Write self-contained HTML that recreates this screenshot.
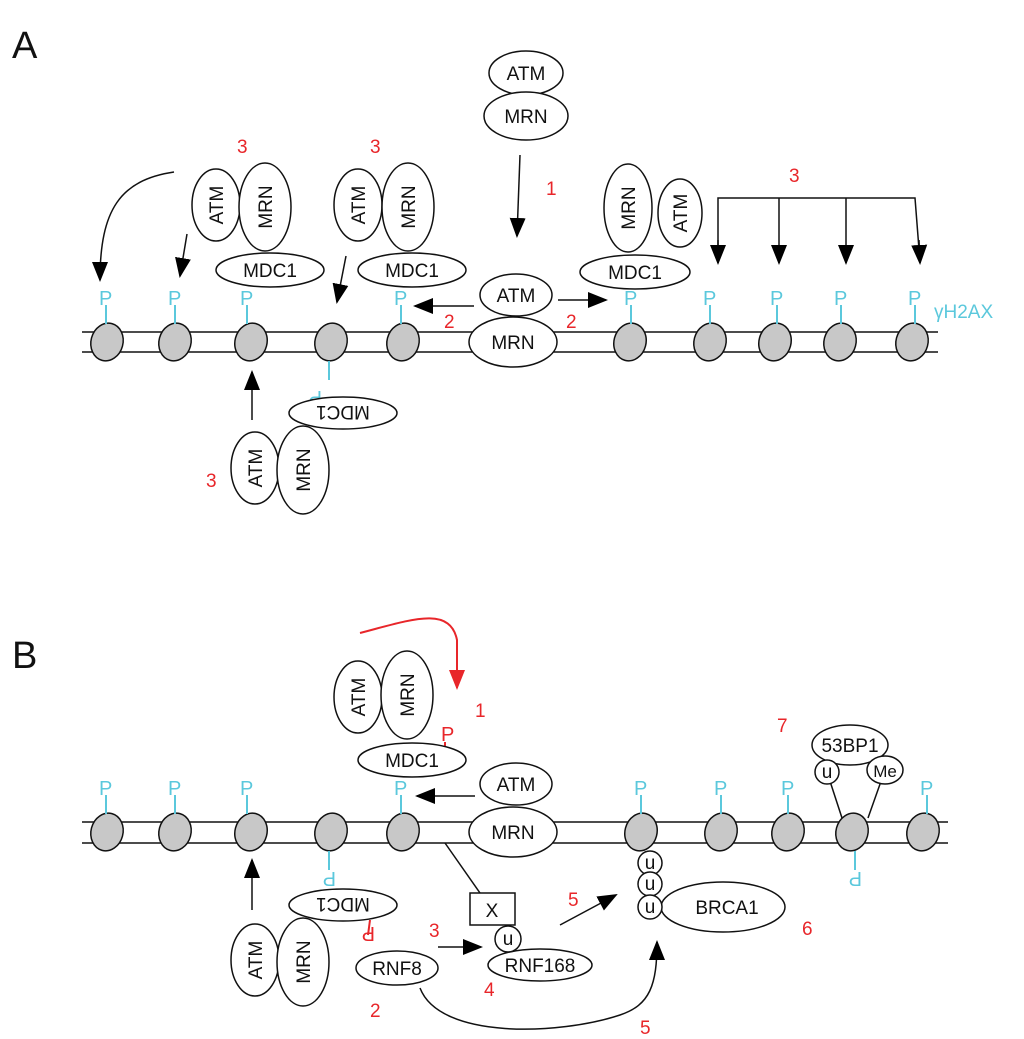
<!DOCTYPE html>
<html><head><meta charset="utf-8"><style>
html,body{margin:0;padding:0;background:#fff;}
svg{display:block;}
text{font-family:"Liberation Sans",sans-serif;}
.b{font-size:19px;fill:#111;}
.r{font-size:19px;fill:#e8262a;}
.c{font-size:20px;fill:#5bc8dc;}
</style></head><body>
<svg width="1024" height="1039" viewBox="0 0 1024 1039" xmlns="http://www.w3.org/2000/svg">
<defs>
<marker id="ah" viewBox="0 0 10 10" refX="9" refY="5" markerWidth="7" markerHeight="7" orient="auto" markerUnits="userSpaceOnUse"><path d="M0,0 L10,5 L0,10 z" fill="#000"/></marker>
<marker id="ahb" viewBox="0 0 10 10" refX="9" refY="5" markerWidth="20" markerHeight="20" orient="auto" markerUnits="userSpaceOnUse"><path d="M0,1 L10,5 L0,9 z" fill="#000"/></marker>
<marker id="ahr" viewBox="0 0 10 10" refX="9" refY="5" markerWidth="20" markerHeight="20" orient="auto" markerUnits="userSpaceOnUse"><path d="M0,1 L10,5 L0,9 z" fill="#e8262a"/></marker>
</defs>
<g stroke="#111" stroke-width="1.5" fill="none">
<text x="12" y="58" style="font-size:38px" fill="#111" stroke="none">A</text>
<text x="12" y="668" style="font-size:38px" fill="#111" stroke="none">B</text>

<!-- PANEL A DNA -->
<line x1="82" y1="332" x2="938" y2="332"/><line x1="82" y1="352" x2="938" y2="352"/>
<g fill="#c8c8c8">
<ellipse cx="107" cy="342" rx="16" ry="19" transform="rotate(15 107 342)"/>
<ellipse cx="175" cy="342" rx="16" ry="19" transform="rotate(15 175 342)"/>
<ellipse cx="251" cy="342" rx="16" ry="19" transform="rotate(15 251 342)"/>
<ellipse cx="331" cy="342" rx="16" ry="19" transform="rotate(15 331 342)"/>
<ellipse cx="403" cy="342" rx="16" ry="19" transform="rotate(15 403 342)"/>
<ellipse cx="630" cy="342" rx="16" ry="19" transform="rotate(15 630 342)"/>
<ellipse cx="710" cy="342" rx="16" ry="19" transform="rotate(15 710 342)"/>
<ellipse cx="775" cy="342" rx="16" ry="19" transform="rotate(15 775 342)"/>
<ellipse cx="840" cy="342" rx="16" ry="19" transform="rotate(15 840 342)"/>
<ellipse cx="912" cy="342" rx="16" ry="19" transform="rotate(15 912 342)"/>
</g>
<g stroke="#5bc8dc" stroke-width="2">
<line x1="106" y1="305" x2="106" y2="324"/><line x1="175" y1="305" x2="175" y2="324"/>
<line x1="247" y1="305" x2="247" y2="324"/><line x1="401" y1="305" x2="401" y2="324"/>
<line x1="631" y1="305" x2="631" y2="324"/><line x1="710" y1="305" x2="710" y2="324"/>
<line x1="777" y1="305" x2="777" y2="324"/><line x1="841" y1="305" x2="841" y2="324"/>
<line x1="915" y1="305" x2="915" y2="324"/><line x1="329" y1="361" x2="329" y2="380"/>
</g>
<g class="c" stroke="none">
<text x="99" y="305" class="c">P</text><text x="168" y="305" class="c">P</text>
<text x="240" y="305" class="c">P</text><text x="394" y="305" class="c">P</text>
<text x="624" y="305" class="c">P</text><text x="703" y="305" class="c">P</text>
<text x="770" y="305" class="c">P</text><text x="834" y="305" class="c">P</text>
<text x="908" y="305" class="c">P</text>
<text x="934" y="318" class="c" style="font-size:19px">γH2AX</text>
<text x="336" y="377" class="c" transform="rotate(180 329 384)" x="322" y="391">P</text>
</g>

<!-- top ATM/MRN -->
<g fill="#fff">
<ellipse cx="526" cy="73" rx="37" ry="22"/><ellipse cx="526" cy="116" rx="42" ry="24"/>
<ellipse cx="516" cy="295" rx="36" ry="21"/><ellipse cx="513" cy="342" rx="44" ry="25"/>
</g>
<g class="b" stroke="none" text-anchor="middle">
<text x="526" y="80">ATM</text><text x="526" y="123">MRN</text>
<text x="516" y="302">ATM</text><text x="513" y="349">MRN</text>
</g>
<line x1="520" y1="155" x2="517" y2="236" marker-end="url(#ahb)"/>
<text x="546" y="195" class="r" stroke="none">1</text>
<line x1="474" y1="306" x2="415" y2="306" marker-end="url(#ahb)"/>
<line x1="558" y1="300" x2="606" y2="300" marker-end="url(#ahb)"/>
<text x="444" y="328" class="r" stroke="none">2</text>
<text x="566" y="328" class="r" stroke="none">2</text>

<!-- complex 1 -->
<g fill="#fff">
<ellipse cx="216" cy="205" rx="24" ry="36"/><ellipse cx="265" cy="207" rx="26" ry="44"/>
<ellipse cx="270" cy="270" rx="54" ry="17"/>
<ellipse cx="358" cy="205" rx="24" ry="36"/><ellipse cx="408" cy="207" rx="26" ry="44"/>
<ellipse cx="412" cy="270" rx="54" ry="17"/>
<ellipse cx="628" cy="208" rx="24" ry="44"/><ellipse cx="680" cy="213" rx="22" ry="34"/>
<ellipse cx="635" cy="272" rx="55" ry="17"/>
<ellipse cx="255" cy="468" rx="24" ry="36"/><ellipse cx="303" cy="470" rx="26" ry="44"/>
<ellipse cx="343" cy="413" rx="54" ry="16"/>
</g>
<g class="b" stroke="none" text-anchor="middle">
<text transform="translate(223 205) rotate(-90)">ATM</text><text transform="translate(272 207) rotate(-90)">MRN</text>
<text x="270" y="277">MDC1</text>
<text transform="translate(365 205) rotate(-90)">ATM</text><text transform="translate(415 207) rotate(-90)">MRN</text>
<text x="412" y="277">MDC1</text>
<text transform="translate(635 208) rotate(-90)">MRN</text><text transform="translate(687 213) rotate(-90)">ATM</text>
<text x="635" y="279">MDC1</text>
<text transform="translate(262 468) rotate(-90)">ATM</text><text transform="translate(310 470) rotate(-90)">MRN</text>
<text transform="translate(343 406) rotate(180)">MDC1</text>
</g>
<g class="r" stroke="none"><text x="237" y="153">3</text><text x="370" y="153">3</text><text x="789" y="182">3</text><text x="206" y="487">3</text></g>
<path d="M174,172 C120,180 100,210 100,280" marker-end="url(#ahb)"/>
<line x1="187" y1="234" x2="180" y2="276" marker-end="url(#ahb)"/>
<line x1="346" y1="256" x2="337" y2="302" marker-end="url(#ahb)"/>
<line x1="252" y1="420" x2="252" y2="372" marker-end="url(#ahb)"/>
<path d="M718,262 L718,198 L915,198 L920,262"/>
<line x1="718" y1="240" x2="718" y2="263" marker-end="url(#ahb)"/>
<line x1="779" y1="198" x2="779" y2="263" marker-end="url(#ahb)"/>
<line x1="846" y1="198" x2="846" y2="263" marker-end="url(#ahb)"/>
<line x1="919" y1="240" x2="920" y2="263" marker-end="url(#ahb)"/>

<!-- PANEL B -->
<line x1="82" y1="822" x2="948" y2="822"/><line x1="82" y1="843" x2="948" y2="843"/>
<g fill="#c8c8c8">
<ellipse cx="107" cy="832" rx="16" ry="19" transform="rotate(15 107 832)"/>
<ellipse cx="175" cy="832" rx="16" ry="19" transform="rotate(15 175 832)"/>
<ellipse cx="251" cy="832" rx="16" ry="19" transform="rotate(15 251 832)"/>
<ellipse cx="331" cy="832" rx="16" ry="19" transform="rotate(15 331 832)"/>
<ellipse cx="403" cy="832" rx="16" ry="19" transform="rotate(15 403 832)"/>
<ellipse cx="641" cy="832" rx="16" ry="19" transform="rotate(15 641 832)"/>
<ellipse cx="721" cy="832" rx="16" ry="19" transform="rotate(15 721 832)"/>
<ellipse cx="788" cy="832" rx="16" ry="19" transform="rotate(15 788 832)"/>
<ellipse cx="852" cy="832" rx="16" ry="19" transform="rotate(15 852 832)"/>
<ellipse cx="923" cy="832" rx="16" ry="19" transform="rotate(15 923 832)"/>
</g>
<g stroke="#5bc8dc" stroke-width="2">
<line x1="106" y1="795" x2="106" y2="814"/><line x1="175" y1="795" x2="175" y2="814"/>
<line x1="247" y1="795" x2="247" y2="814"/><line x1="401" y1="795" x2="401" y2="814"/>
<line x1="641" y1="795" x2="641" y2="814"/><line x1="721" y1="795" x2="721" y2="814"/>
<line x1="788" y1="795" x2="788" y2="814"/><line x1="927" y1="795" x2="927" y2="814"/>
<line x1="329" y1="851" x2="329" y2="870"/><line x1="855" y1="851" x2="855" y2="870"/>
</g>
<line x1="370" y1="920" x2="368" y2="935" stroke="#e8262a" stroke-width="2"/>
<line x1="445" y1="742" x2="445" y2="757" stroke="#e8262a" stroke-width="2"/>
<g stroke="none">
<text x="99" y="795" class="c">P</text><text x="168" y="795" class="c">P</text>
<text x="240" y="795" class="c">P</text><text x="394" y="795" class="c">P</text>
<text x="634" y="795" class="c">P</text><text x="714" y="795" class="c">P</text>
<text x="781" y="795" class="c">P</text><text x="920" y="795" class="c">P</text>
<text transform="translate(336 872) rotate(180)" class="c">P</text>
<text transform="translate(862 872) rotate(180)" class="c">P</text>
<text transform="translate(375 927) rotate(180)" class="r" style="font-size:20px">P</text>
<text x="441" y="741" class="r" style="font-size:20px">P</text>
</g>
<path d="M360,633 C410,620 450,605 457,640 L457,688" stroke="#e8262a" stroke-width="2" marker-end="url(#ahr)"/>
<line x1="445" y1="843" x2="480" y2="893"/>
<line x1="475" y1="796" x2="417" y2="796" marker-end="url(#ahb)"/>
<line x1="252" y1="910" x2="252" y2="860" marker-end="url(#ahb)"/>
<line x1="438" y1="947" x2="481" y2="947" marker-end="url(#ahb)"/>
<line x1="560" y1="925" x2="616" y2="895" marker-end="url(#ahb)"/>
<path d="M420,988 C440,1040 560,1035 620,1015 C650,1005 657,985 657,942" marker-end="url(#ahb)"/>
<line x1="827" y1="772" x2="842" y2="818"/><line x1="885" y1="770" x2="868" y2="818"/>
<g fill="#fff">
<ellipse cx="516" cy="784" rx="36" ry="21"/><ellipse cx="513" cy="832" rx="44" ry="25"/>
<ellipse cx="358" cy="697" rx="24" ry="36"/><ellipse cx="407" cy="695" rx="26" ry="44"/>
<ellipse cx="412" cy="760" rx="54" ry="17"/>
<ellipse cx="255" cy="960" rx="24" ry="36"/><ellipse cx="303" cy="962" rx="26" ry="44"/>
<ellipse cx="343" cy="905" rx="54" ry="16"/>
<ellipse cx="397" cy="968" rx="41" ry="17"/>
<rect x="470" y="893" width="45" height="32"/>
<ellipse cx="540" cy="965" rx="52" ry="16"/>
<circle cx="508" cy="939" r="13"/>
<ellipse cx="723" cy="907" rx="62" ry="25"/>
<circle cx="650" cy="863" r="12"/><circle cx="650" cy="884" r="12"/><circle cx="650" cy="907" r="12"/>
<ellipse cx="850" cy="745" rx="38" ry="20"/>
<circle cx="827" cy="772" r="12"/><ellipse cx="885" cy="770" rx="18" ry="14"/>
</g>
<g class="b" stroke="none" text-anchor="middle">
<text x="516" y="791">ATM</text><text x="513" y="839">MRN</text>
<text transform="translate(365 697) rotate(-90)">ATM</text><text transform="translate(414 695) rotate(-90)">MRN</text>
<text x="412" y="767">MDC1</text>
<text transform="translate(262 960) rotate(-90)">ATM</text><text transform="translate(310 962) rotate(-90)">MRN</text>
<text transform="translate(343 898) rotate(180)">MDC1</text>
<text x="397" y="975">RNF8</text>
<text x="492" y="917">X</text>
<text x="540" y="972">RNF168</text>
<text x="508" y="945">u</text>
<text x="727" y="914">BRCA1</text>
<text x="650" y="869">u</text><text x="650" y="890">u</text><text x="650" y="913">u</text>
<text x="850" y="752">53BP1</text>
<text x="827" y="778">u</text><text x="885" y="777" style="font-size:17px">Me</text>
</g>
<g class="r" stroke="none">
<text x="475" y="717">1</text><text x="370" y="1017">2</text><text x="429" y="937">3</text>
<text x="484" y="996">4</text><text x="568" y="906">5</text><text x="640" y="1034">5</text>
<text x="802" y="935">6</text><text x="777" y="732">7</text>
</g>
</g>
</svg>
</body></html>
